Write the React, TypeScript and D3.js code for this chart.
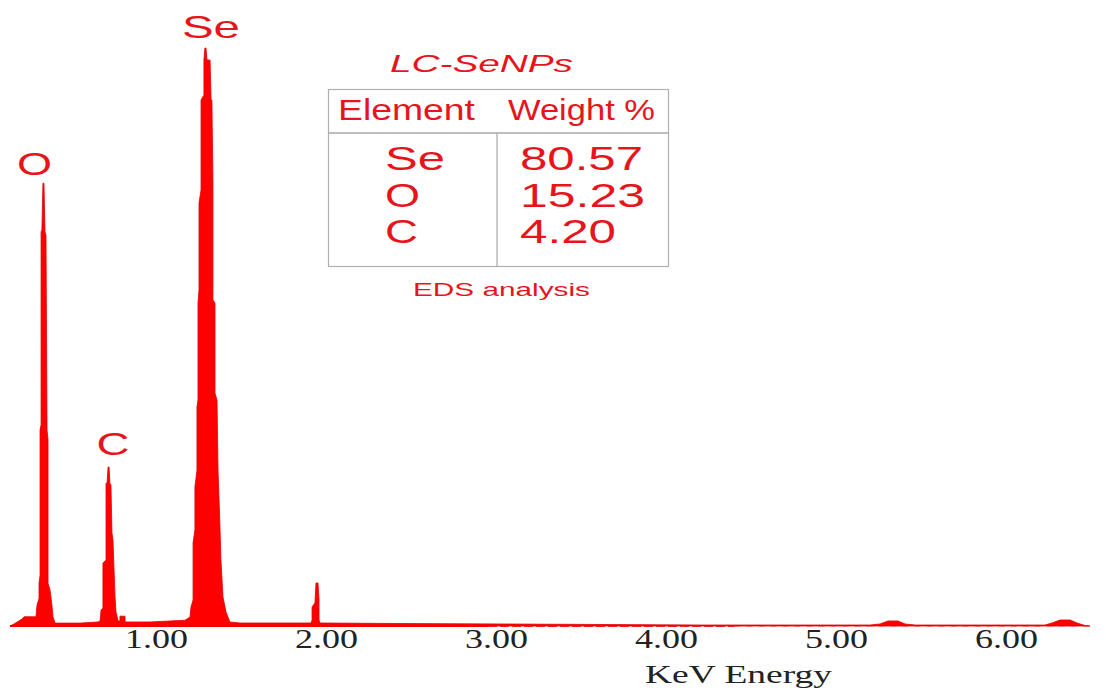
import React from "react";
import * as d3 from "d3";

// EDS spectrum: [energy keV, relative counts]
const spectrum: [number, number][] = [
  [0.138, 0], [0.162, 0.35], [0.209, 1.2], [0.221, 1.6], [0.291, 1.6], [0.297, 3.6],
  [0.309, 4.8], [0.309, 7.4], [0.315, 8.8], [0.315, 33.9], [0.321, 34.8], [0.321, 68.2],
  [0.326, 68.5], [0.332, 76.6], [0.338, 76.6], [0.344, 68.2], [0.35, 67.6], [0.356, 33.9],
  [0.362, 32.2], [0.362, 7.4], [0.374, 6.2], [0.385, 3.6], [0.391, 1.6], [0.403, 0.5],
  [0.553, 0.5], [0.656, 0.7],
  [0.668, 0.87], [0.674, 2.8], [0.685, 3.1], [0.685, 10.9], [0.703, 11.4], [0.703, 24.7],
  [0.709, 24.7], [0.715, 27.5], [0.721, 27.5], [0.726, 24.7], [0.732, 24.4], [0.738, 16.1],
  [0.744, 14.9], [0.756, 5.0], [0.762, 2.4], [0.774, 0.87], [0.785, 0.87], [0.785, 1.7],
  [0.815, 1.7], [0.815, 0.7], [0.962, 0.7], [1.079, 0.87], [1.168, 1.0],
  [1.197, 1.56], [1.203, 3.29], [1.215, 4.5], [1.215, 14.36], [1.226, 16.61], [1.226, 24.05],
  [1.238, 26.99], [1.238, 37.89], [1.244, 39.1], [1.244, 55.88], [1.25, 58.13], [1.25, 73.18],
  [1.262, 75.43], [1.262, 91.0], [1.279, 91.87], [1.279, 97.92], [1.285, 100], [1.291, 100],
  [1.297, 97.92], [1.315, 97.92], [1.321, 91.0], [1.326, 91.0], [1.332, 76.82], [1.332, 56.4],
  [1.344, 55.88], [1.344, 40.31], [1.356, 39.1], [1.362, 26.99], [1.374, 16.61], [1.379, 11.42],
  [1.391, 5.02], [1.409, 2.42], [1.432, 0.69], [1.491, 0.52], [1.844, 0.52],
  [1.909, 0.52], [1.915, 1.04], [1.915, 3.29], [1.932, 3.98], [1.938, 7.44], [1.95, 7.44],
  [1.956, 4.5], [1.956, 1.04], [1.962, 0.52],
  [2.432, 0.43], [3.021, 0.35], [3.609, 0.26], [4.197, 0.17], [5.197, 0.17],
  [5.256, 0.35], [5.303, 0.87], [5.362, 0.87], [5.403, 0.35], [5.462, 0.17],
  [6.226, 0.17], [6.268, 0.52], [6.315, 1.04], [6.374, 1.04], [6.415, 0.52], [6.462, 0.09], [6.491, 0],
];

const tickValues = [1, 2, 3, 4, 5, 6];
const tickLabels = ["1.00", "2.00", "3.00", "4.00", "5.00", "6.00"];

const peakLabels = ["O", "C", "Se"];
const peakEnergies = [0.335, 0.718, 1.288];
const peakCounts = [76.6, 27.5, 100];

const tableElements = ["Se", "O", "C"];
const tableWeights = ["80.57", "15.23", "4.20"];

const RED = "#ff0000";
const TEXT_RED = "#e8141b";

export default function App() {
  const x = d3.scaleLinear().domain([0, 7]).range([-13.5, -13.5 + 7 * 170]);
  const y = d3.scaleLinear().domain([0, 100]).range([626, 48]);

  const area = d3
    .area<[number, number]>()
    .x((d) => x(d[0]))
    .y0(y(0))
    .y1((d) => y(d[1]))
    .curve(d3.curveLinear);

  const sans = "'Liberation Sans', Arial, sans-serif";
  const serif = "'Liberation Serif', 'Times New Roman', serif";

  const labelWidths = [35, 33, 58];
  const labelOffsets = [-26.5, -12, -23.5];
  const labelGap = [8, 12, 10];

  const elemWidths = [60, 35, 33];
  const weightWidths = [123, 125, 96];
  const rowBaselines = [170, 207, 243];

  return (
    <svg
      width={1106}
      height={691}
      style={{ position: "absolute", left: 0, top: 0, background: "#fff" }}
    >
      <rect x={0} y={0} width={1106} height={691} fill="#fff" />
      {/* baseline */}
      <line x1={x(0.138)} x2={x(2.95)} y1={y(0)} y2={y(0)} stroke={RED} strokeWidth={2} />
      <line
        x1={x(2.95)}
        x2={x(4.4)}
        y1={y(0)}
        y2={y(0)}
        stroke={RED}
        strokeWidth={2}
        strokeDasharray="9 3"
        opacity={0.8}
      />
      <line
        x1={x(4.4)}
        x2={x(6.5)}
        y1={y(0)}
        y2={y(0)}
        stroke={RED}
        strokeWidth={2}
        strokeDasharray="6 6"
        opacity={0.3}
      />
      <path d={area(spectrum) || ""} fill={RED} stroke="#e00000" strokeWidth={0.8} />

      {/* peak labels */}
      {peakLabels.map((l, i) => (
        <text
          key={l}
          x={x(peakEnergies[i]) + labelOffsets[i]}
          y={y(peakCounts[i]) - labelGap[i]}
          fontFamily={sans}
          fontSize={32}
          fill={TEXT_RED}
          textLength={labelWidths[i]}
          lengthAdjust="spacingAndGlyphs"
        >
          {l}
        </text>
      ))}

      {/* inset table */}
      <text
        x={390}
        y={72}
        fontFamily={sans}
        fontStyle="italic"
        fontSize={24}
        fill={TEXT_RED}
        textLength={183}
        lengthAdjust="spacingAndGlyphs"
      >
        LC-SeNPs
      </text>
      <rect x={328.5} y={89.5} width={340} height={177} fill="none" stroke="#b0b0b0" strokeWidth={1.2} />
      <line x1={329} x2={668} y1={133} y2={133} stroke="#a8a8a8" strokeWidth={1.6} />
      <line x1={497} x2={497} y1={133} y2={267} stroke="#a8a8a8" strokeWidth={1.2} />
      <text x={338} y={120} fontFamily={sans} fontSize={29} fill={TEXT_RED} textLength={137} lengthAdjust="spacingAndGlyphs">
        Element
      </text>
      <text x={508} y={120} fontFamily={sans} fontSize={29} fill={TEXT_RED} textLength={147} lengthAdjust="spacingAndGlyphs">
        Weight %
      </text>
      {tableElements.map((e, i) => (
        <text
          key={e}
          x={385}
          y={rowBaselines[i]}
          fontFamily={sans}
          fontSize={33}
          fill={TEXT_RED}
          textLength={elemWidths[i]}
          lengthAdjust="spacingAndGlyphs"
        >
          {e}
        </text>
      ))}
      {tableWeights.map((w, i) => (
        <text
          key={w}
          x={520}
          y={rowBaselines[i]}
          fontFamily={sans}
          fontSize={33}
          fill={TEXT_RED}
          textLength={weightWidths[i]}
          lengthAdjust="spacingAndGlyphs"
        >
          {w}
        </text>
      ))}
      <text x={413} y={296} fontFamily={sans} fontSize={19} fill={TEXT_RED} textLength={177} lengthAdjust="spacingAndGlyphs">
        EDS analysis
      </text>

      {/* x tick labels */}
      {tickValues.map((t, i) => (
        <text
          key={t}
          x={x(t) - 31.5}
          y={648}
          fontFamily={serif}
          fontSize={27}
          fill="#222"
          textLength={63}
          lengthAdjust="spacingAndGlyphs"
        >
          {tickLabels[i]}
        </text>
      ))}
      <text x={645} y={683} fontFamily={serif} fontSize={26} fill="#222" textLength={187} lengthAdjust="spacingAndGlyphs">
        KeV Energy
      </text>
    </svg>
  );
}
